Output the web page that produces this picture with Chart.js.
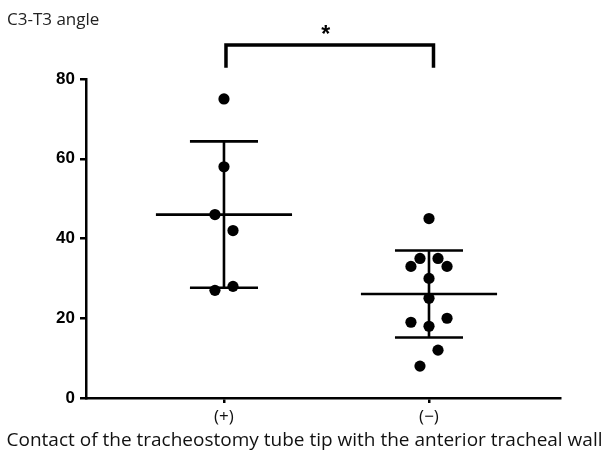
<!DOCTYPE html>
<html>
<head>
<meta charset="utf-8">
<script src="https://cdn.jsdelivr.net/npm/chart.js@4"></script>
<style>
html,body{margin:0;padding:0;background:#fff;}
canvas{display:block;}
</style>
</head>
<body>
<canvas id="c" width="609" height="457"></canvas>
<script>
// ---- data ----
const categories = ['(+)', '(\u2212)'];
const categoryPositions = [1, 2];
const group1Values = [75, 58, 46, 42, 27, 28];
const group1Jitter = [0, 0, -0.044, 0.044, -0.044, 0.044];
const group2Values = [45, 35, 35, 33, 33, 30, 25, 19, 20, 18, 12, 8];
const group2Jitter = [0, -0.044, 0.044, -0.088, 0.088, 0, 0, -0.088, 0.088, 0, 0.044, -0.044];
const yTicks = [0, 20, 40, 60, 80];
const yAxisTitle = 'C3-T3 angle';
const xAxisTitle = 'Contact of the tracheostomy tube tip with the anterior tracheal wall';
const significanceLabel = '*';

// ---- style constants ----
const MEAN_HALF = 0.332;
const CAP_HALF = 0.166;

function mean(a){ return a.reduce((s,v)=>s+v,0)/a.length; }
function sd(a){ const m=mean(a); return Math.sqrt(a.reduce((s,v)=>s+(v-m)*(v-m),0)/(a.length-1)); }

function points(vals, jit, cx){ return vals.map((v,i)=>({x: cx + jit[i], y: v})); }
function errorBars(vals, cx){
  const m = mean(vals), s = sd(vals);
  return [
    {x: cx-MEAN_HALF, y: m}, {x: cx+MEAN_HALF, y: m}, {x: cx, y: null},
    {x: cx-CAP_HALF, y: m+s}, {x: cx+CAP_HALF, y: m+s}, {x: cx, y: null},
    {x: cx, y: m+s}, {x: cx, y: m-s}, {x: cx, y: null},
    {x: cx-CAP_HALF, y: m-s}, {x: cx+CAP_HALF, y: m-s}
  ];
}

const bracketPlugin = {
  id: 'bracket',
  afterDraw(chart){
    const {ctx, scales:{x, y}} = chart;
    const x1 = x.getPixelForValue(categoryPositions[0]) + 2;
    const x2 = x.getPixelForValue(categoryPositions[1]) + 4.5;
    const yTop = y.getPixelForValue(88.5);
    const yBot = y.getPixelForValue(82.8);
    ctx.save();
    ctx.strokeStyle = '#000';
    ctx.lineWidth = 3.5;
    ctx.lineJoin = 'miter';
    ctx.beginPath();
    ctx.moveTo(x1, yBot); ctx.lineTo(x1, yTop); ctx.lineTo(x2, yTop); ctx.lineTo(x2, yBot);
    ctx.stroke();
    ctx.fillStyle = '#000';
    ctx.font = 'bold 23px "Liberation Sans", Arial, sans-serif';
    ctx.textAlign = 'center';
    ctx.textBaseline = 'alphabetic';
    ctx.fillText(significanceLabel, (x1+x2)/2 - 4, yTop - 3);
    // x-axis title, centred on the whole figure
    ctx.fillStyle = '#111';
    ctx.font = '19px "Open Sans", sans-serif';
    ctx.textBaseline = 'middle';
    ctx.fillText(xAxisTitle, chart.width / 2, 441);
    ctx.restore();
  }
};

new Chart(document.getElementById('c'), {
  type: 'scatter',
  data: {
    datasets: [
      { label: 'points1', data: points(group1Values, group1Jitter, categoryPositions[0]),
        backgroundColor: '#000', borderWidth: 0, pointRadius: 5.6, pointHoverRadius: 5.6 },
      { label: 'points2', data: points(group2Values, group2Jitter, categoryPositions[1]),
        backgroundColor: '#000', borderWidth: 0, pointRadius: 5.6, pointHoverRadius: 5.6 },
      { label: 'err1', data: errorBars(group1Values, categoryPositions[0]), showLine: true, spanGaps: false,
        borderColor: '#000', borderWidth: 2.6, pointRadius: 0, borderCapStyle: 'butt' },
      { label: 'err2', data: errorBars(group2Values, categoryPositions[1]), showLine: true, spanGaps: false,
        borderColor: '#000', borderWidth: 2.6, pointRadius: 0, borderCapStyle: 'butt' }
    ]
  },
  options: {
    responsive: false,
    animation: false,
    events: [],
    layout: { padding: { left: 7, right: 49, top: 0, bottom: 27.4 } },
    plugins: {
      legend: { display: false },
      tooltip: { enabled: false },
      subtitle: { display: true, text: yAxisTitle, position: 'top', align: 'start',
        color: '#222', font: { family: '"Open Sans", sans-serif', size: 17, weight: 'normal' },
        padding: { top: 10, bottom: 48.6 } },
      title: { display: false }
    },
    scales: {
      x: {
        type: 'linear', min: 0.327, max: 2.639,
        afterBuildTicks(s){ s.ticks = categoryPositions.map(v=>({value: v})); },
        afterFit(s){ s.height = 31.6; },
        ticks: { callback: (v)=> { const i = categoryPositions.indexOf(v); return i>=0 ? categories[i] : ''; },
          color: '#111', font: { family: '"Open Sans", sans-serif', size: 17 }, padding: 4, autoSkip: false, maxRotation: 0 },
        grid: { display: true, drawOnChartArea: false, drawTicks: true, tickLength: 5, color: '#000', lineWidth: 2.5 },
        border: { display: true, color: '#000', width: 2.5 }
      },
      y: {
        type: 'linear', min: 0, max: 80,
        afterBuildTicks(s){ s.ticks = yTicks.map(v=>({value: v})); },
        afterFit(s){ s.width = 79; },
        ticks: { color: '#000', font: { family: '"Liberation Sans", Arial, sans-serif', size: 17, weight: 'bold' }, padding: 5 },
        grid: { display: true, drawOnChartArea: false, drawTicks: true, tickLength: 6, color: '#000', lineWidth: 2.5 },
        border: { display: true, color: '#000', width: 2.5 }
      }
    }
  },
  plugins: [bracketPlugin]
});
</script>
</body>
</html>
